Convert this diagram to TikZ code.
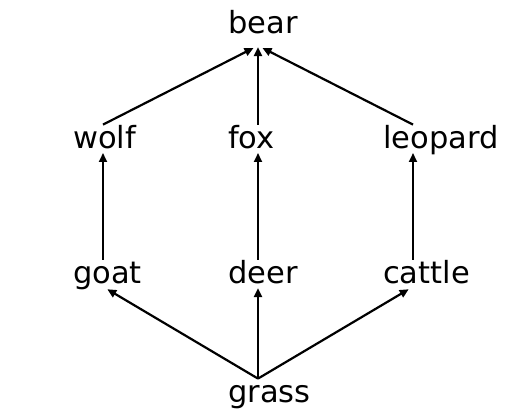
\documentclass[tikz,border=0pt]{standalone}
\usepackage{fontspec}
\setmainfont{DejaVu Sans}
\usetikzlibrary{arrows.meta}

\begin{document}
\begin{tikzpicture}[x=1pt,y=1pt,
        animal/.style={anchor=base west, inner sep=0pt, text height=24pt,
            text depth=2.5pt, font=\fontsize{30.5}{36}\selectfont},
        eats/.style={line width=2.2pt, -{Triangle[length=9pt,width=8pt]},
            shorten >=1.5pt},
        eatsdiag/.style={eats, shorten >=5pt}]
        \useasboundingbox (0,0) rectangle (515,418);%

        \def\varx{30}% label starts this far left of its column

        % food chain, top to bottom
        \node[animal, text depth=11.7pt] (bear) at (258-\varx,384.2) {bear};%
        \foreach \nm/\cx/\by in {wolf/103/269.2, fox/258/269.2, leopard/413/269.2,
            goat/103/134, deer/258/134, cattle/413/134, grass/258/15.2} {%
            \node[animal] (\nm) at (\cx-\varx,\by) {\nm}; }%

        \foreach \a/\b in {goat/wolf, deer/fox, cattle/leopard, fox/bear, grass/deer}
            \draw[eats] ([xshift=\varx pt]\a.north west) -- ([xshift=\varx pt]\b.south west);%
        \foreach \a/\b in {wolf/bear, leopard/bear, grass/goat, grass/cattle}
            \draw[eatsdiag] ([xshift=\varx pt]\a.north west) -- ([xshift=\varx pt]\b.south west);%
      \end{tikzpicture}
\end{document}
